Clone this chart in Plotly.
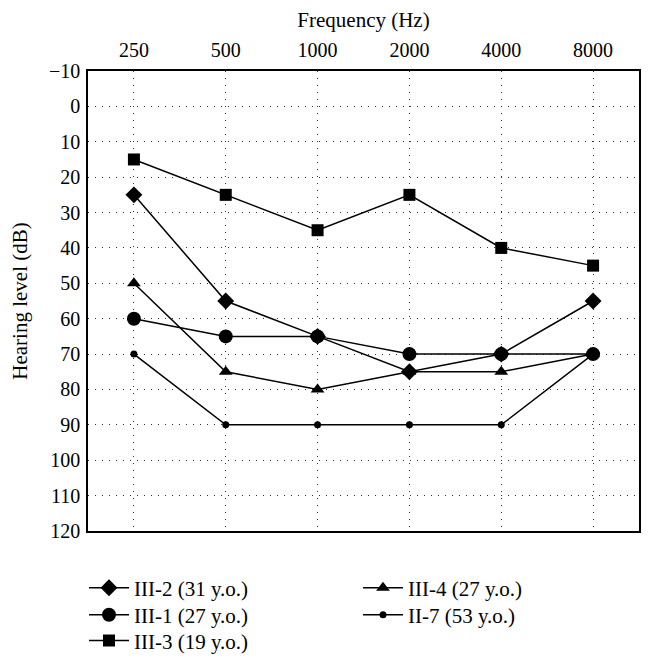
import plotly.graph_objects as go

freqs = ["250", "500", "1000", "2000", "4000", "8000"]
iii2 = [25, 55, 65, 75, 70, 55]
iii1 = [60, 65, 65, 70, 70, 70]
iii3 = [15, 25, 35, 25, 40, 45]
iii4 = [50, 75, 80, 75, 75, 70]
ii7 = [70, 90, 90, 90, 90, 70]

FONT = "Liberation Serif"
W, H = 654, 665
OFF = 8  # page body margin offset
PL_S, PT_S, PR_S, PB_S = 88, 71, 639, 533  # target plot box on screen
ML, MT = PL_S - OFF, PT_S - OFF
MR, MB = W - (PR_S - OFF), H - (PB_S - OFF)
PW, PH = PR_S - PL_S, PB_S - PT_S
fig = go.Figure()

def add(name, y, symbol, size, legend):
    fig.add_trace(go.Scatter(
        x=freqs, y=y, name=name, mode="lines+markers",
        line=dict(color="black", width=1.5),
        marker=dict(symbol=symbol, size=size, color="black"),
        legend=legend, showlegend=True,
    ))

add("III-2 (31 y.o.)", iii2, "diamond", 13, "legend")
add("III-1 (27 y.o.)", iii1, "circle", 14, "legend2")
add("III-3 (19 y.o.)", iii3, "square", 12, "legend3")
add("III-4 (27 y.o.)", iii4, "triangle-up", 12, "legend4")
add("II-7 (53 y.o.)", ii7, "circle", 7, "legend5")

def leg(px_left, px_bottom):
    return dict(
        font=dict(family=FONT, size=21, color="black"),
        bgcolor="rgba(0,0,0,0)", itemwidth=40,
        orientation="v",
        x=(px_left - PL_S) / PW, y=(PB_S - px_bottom) / PH,
        xanchor="left", yanchor="bottom",
    )

fig.update_layout(
    width=W, height=H,
    margin=dict(l=ML, r=MR, t=MT, b=MB),
    paper_bgcolor="white", plot_bgcolor="white",
    font=dict(family=FONT, size=20, color="black"),
    showlegend=True,
    xaxis=dict(
        type="category", side="top", range=[-0.5, 5.5], automargin=False,
        title=dict(text="Frequency (Hz)", standoff=8, font=dict(size=21)),
        showgrid=True, gridcolor="#333", gridwidth=1, griddash="1px,6px",
        showline=True, linecolor="black", linewidth=1.5, mirror=True,
        ticks="", tickfont=dict(size=20), ticklabelstandoff=4,
    ),
    yaxis=dict(
        range=[120, -10], dtick=10, tick0=0, automargin=False,
        title=dict(text="Hearing level (dB)", standoff=26, font=dict(size=21)),
        showgrid=True, gridcolor="#333", gridwidth=1, griddash="1px,6px",
        showline=True, linecolor="black", linewidth=1.5, mirror=True,
        ticks="", tickfont=dict(size=20), zeroline=False, ticklabelstandoff=2,
    ),
    legend=leg(84, 611),
    legend2=leg(84, 638),
    legend3=leg(84, 664),
    legend4=leg(358, 611),
    legend5=leg(358, 638),
)

fig.write_html("out.html")
